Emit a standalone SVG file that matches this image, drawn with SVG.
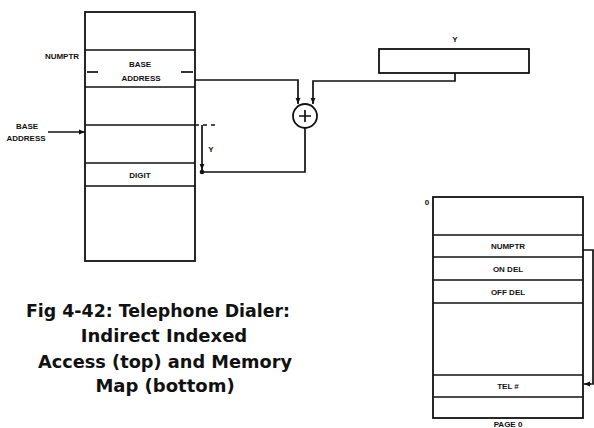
<svg xmlns="http://www.w3.org/2000/svg" width="594" height="428" viewBox="0 0 594 428">
<style>
.ln{fill:none;stroke:#111;stroke-width:1.7}
.bx{fill:#fff;stroke:#111;stroke-width:1.8}
.lb{font-family:"Liberation Sans",Arial,sans-serif;font-size:8px;font-weight:bold;fill:#111;text-anchor:middle}
.cap{font-family:"DejaVu Sans",sans-serif;font-size:18px;font-weight:bold;fill:#111;text-anchor:middle}
</style>
<defs>
<marker id="ah" viewBox="0 0 10 10" refX="10" refY="5" markerWidth="6" markerHeight="6" orient="auto" markerUnits="userSpaceOnUse">
<path d="M0,1 L10,5 L0,9 Z" fill="#111"/>
</marker>
</defs>
<rect width="594" height="428" fill="#fff"/>

<g id="left-memory">
<rect class="bx" x="85" y="12" width="110" height="249"/>
<line class="ln" x1="85" y1="50" x2="195" y2="50"/>
<line class="ln" x1="85" y1="87" x2="195" y2="87"/>
<line class="ln" x1="85" y1="125" x2="195" y2="125"/>
<line class="ln" x1="85" y1="163" x2="195" y2="163"/>
<line class="ln" x1="85" y1="186" x2="195" y2="186"/>
<line class="ln" x1="87" y1="72" x2="98" y2="72"/>
<line class="ln" x1="181" y1="72" x2="193" y2="72"/>
<text class="lb" x="140" y="67">BASE</text>
<text class="lb" x="141" y="81">ADDRESS</text>
<text class="lb" x="140" y="178">DIGIT</text>
<text class="lb" x="62" y="59">NUMPTR</text>
</g>

<g id="base-address-label">
<text class="lb" x="27" y="129">BASE</text>
<text class="lb" x="26" y="141">ADDRESS</text>
</g>

<g id="y-register">
<rect class="bx" x="379" y="49" width="150" height="24"/>
<text class="lb" x="455" y="42">Y</text>
</g>

<g id="adder">
<circle cx="305" cy="116" r="12" fill="#fff" stroke="#111" stroke-width="1.8"/>
<path class="ln" d="M299,116 H311 M305,110 V122" stroke-width="2.2"/>
</g>

<g id="right-memory">
<rect class="bx" x="433" y="197" width="150" height="221"/>
<line class="ln" x1="433" y1="235" x2="583" y2="235"/>
<line class="ln" x1="433" y1="257" x2="583" y2="257"/>
<line class="ln" x1="433" y1="280" x2="583" y2="280"/>
<line class="ln" x1="433" y1="303" x2="583" y2="303"/>
<line class="ln" x1="433" y1="375" x2="583" y2="375"/>
<line class="ln" x1="433" y1="397" x2="583" y2="397"/>
<text class="lb" x="427" y="205">0</text>
<text class="lb" x="508" y="249">NUMPTR</text>
<text class="lb" x="508" y="272">ON DEL</text>
<text class="lb" x="508" y="295">OFF DEL</text>
<text class="lb" x="508" y="389">TEL #</text>
<text class="lb" x="508" y="427" font-size="7">PAGE 0</text>
</g>

<g id="connectors">
<path class="ln" d="M48,132 H85" marker-end="url(#ah)"/>
<path class="ln" d="M195,80 H298 V104" marker-end="url(#ah)"/>
<path class="ln" d="M455,73 V81 H313 V104" marker-end="url(#ah)"/>
<path class="ln" d="M305,128 V172 H202"/>
<path class="ln" d="M202,125 V170" marker-end="url(#ah)"/>
<circle cx="202" cy="172" r="2.3" fill="#111"/>
<path class="ln" d="M195,125 H216" stroke-dasharray="4,4"/>
<text class="lb" x="211" y="152">Y</text>
<path class="ln" d="M583,250 H593 V384 H584" marker-end="url(#ah)"/>
</g>

<g id="caption">
<text class="cap" x="158" y="317" textLength="264" lengthAdjust="spacingAndGlyphs">Fig 4-42:  Telephone Dialer:</text>
<text class="cap" x="164" y="342">Indirect Indexed</text>
<text class="cap" x="165" y="368" textLength="254" lengthAdjust="spacingAndGlyphs">Access (top) and Memory</text>
<text class="cap" x="165" y="392">Map (bottom)</text>
</g>
</svg>
